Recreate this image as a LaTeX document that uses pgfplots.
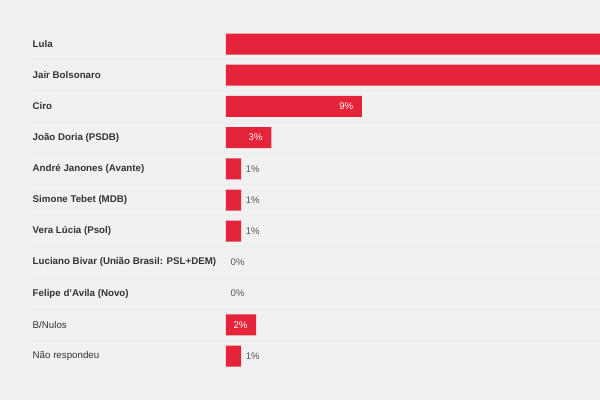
\documentclass[border=0pt]{standalone}
\usepackage{pgfplots}
\pgfplotsset{compat=1.18}
\usepackage{fontspec}
\setmainfont{Liberation Sans}
\definecolor{barred}{RGB}{229,35,59}
\definecolor{bgc}{RGB}{241,241,241}
\definecolor{namec}{RGB}{51,51,51}
\definecolor{valc}{RGB}{85,85,85}
\begin{document}
\begin{tikzpicture}
\fill[bgc] (0,0) rectangle (450pt,300pt);
\useasboundingbox (0,0) rectangle (450pt,300pt);
\begin{axis}[
  at={(22.5pt,278.7pt)}, anchor=north west,
  scale only axis, width=427.5pt, height=257.4pt,
  xmin=-12.98, xmax=24.77, ymin=-0.5, ymax=10.5,
  y dir=reverse,
  /pgf/number format/assume math mode=true,
  xbar, bar width=15.75pt, bar shift=0pt,
  axis line style={draw=none},
  xtick=\empty,
  ytick={0,...,10},
  ytick style={draw=none},
  major tick length=0pt,
  yticklabels={{\textbf{Lula}},{\textbf{Jair Bolsonaro}},{\textbf{Ciro}},{\textbf{João Doria (PSDB)}},{\textbf{André Janones (Avante)}},{\textbf{Simone Tebet (MDB)}},{\textbf{Vera Lúcia (Psol)}},{\textbf{Luciano Bivar (União Brasil: PSL+DEM)}},{\textbf{Felipe d’Avila (Novo)}},{B/Nulos},{Não respondeu}},
  yticklabel style={anchor=west, xshift=-1.5pt, font=\fontsize{7.3pt}{8pt}\selectfont, text=namec},
  extra y ticks={0.5,1.5,...,9.5},
  extra y tick labels={},
  extra y tick style={grid=major, major grid style={draw=white!85!gray, line width=0.6pt}},
  clip=true,
]
\addplot[fill=barred, draw=none] coordinates {(45,0) (32,1)};
\addplot[fill=barred, draw=none,
  nodes near coords={\pgfmathprintnumber{\pgfplotspointmeta}\%},
  every node near coord/.append style={anchor=east, xshift=-3pt, text=white, font=\fontsize{7.2pt}{8pt}\selectfont}]
  coordinates {(9,2) (3,3) (2,9)};
\addplot[fill=barred, draw=none,
  nodes near coords={\pgfmathprintnumber{\pgfplotspointmeta}\%},
  every node near coord/.append style={anchor=west, xshift=0pt, text=valc, font=\fontsize{7.2pt}{8pt}\selectfont}]
  coordinates {(1,4) (1,5) (1,6) (1,10)};
\addplot[fill=none, draw=none,
  nodes near coords={\pgfmathprintnumber{\pgfplotspointmeta}\%},
  every node near coord/.append style={anchor=west, xshift=0pt, text=valc, font=\fontsize{7.2pt}{8pt}\selectfont}]
  coordinates {(0,7) (0,8)};
\end{axis}
\end{tikzpicture}
\end{document}
